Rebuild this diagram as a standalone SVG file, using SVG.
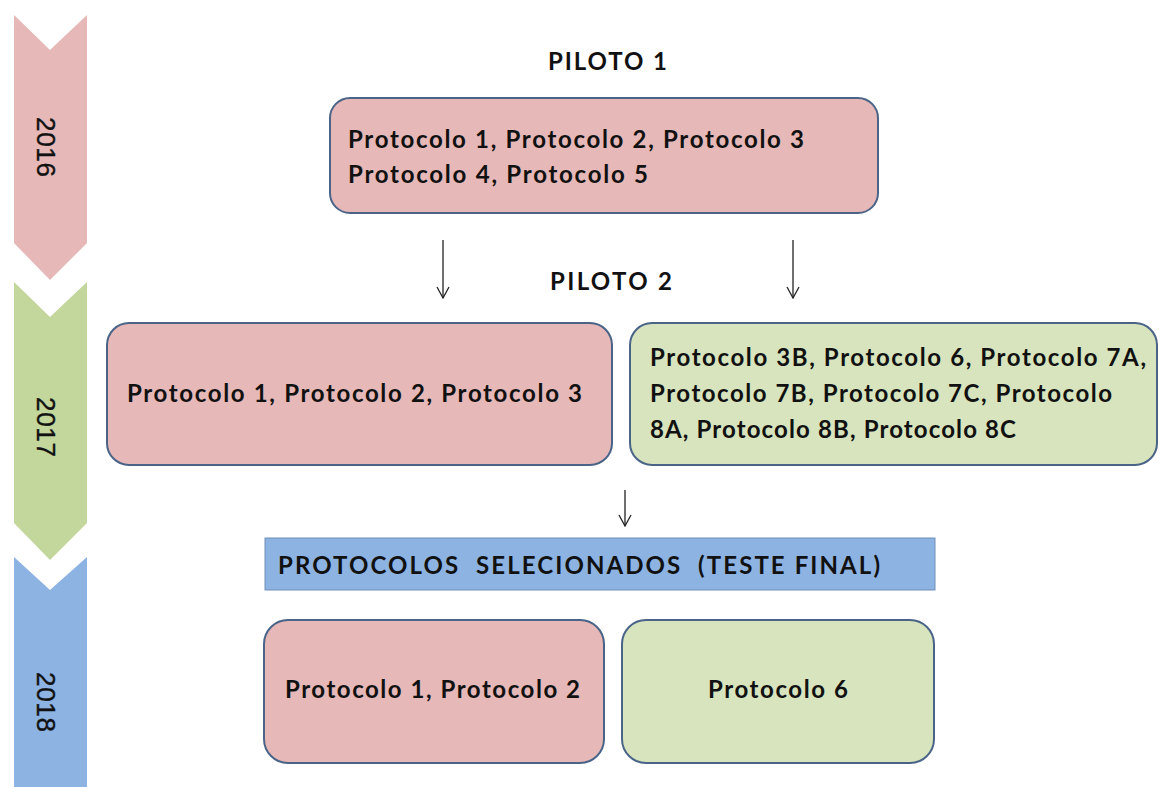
<svg xmlns="http://www.w3.org/2000/svg" width="1161" height="787" viewBox="0 0 1161 787">
<defs>
<style>
.box{stroke:#4a6488;stroke-width:2}
.pink{fill:#e6b8b7}
.green{fill:#d7e4bd}
.t{font-family:Lato,"Open Sans","Liberation Sans",sans-serif;font-weight:bold;font-size:24px;fill:#111}
.yr{font-family:"Liberation Sans",Arial,sans-serif;font-size:26px;fill:#111;stroke:#111;stroke-width:0.4}
.conn{stroke:#222;stroke-width:1.3;fill:none}
</style>
<marker id="ah" viewBox="0 0 14 14" refX="13" refY="7" markerWidth="14" markerHeight="14" markerUnits="userSpaceOnUse" orient="auto">
<path d="M2,1 L13,7 L2,13" fill="none" stroke="#222" stroke-width="1.3"/>
</marker>
</defs>
<rect width="1161" height="787" fill="#fff"/>
<g id="timeline">
<g id="y2016">
<polygon points="14,15 50,50 87,15 87,243 50,280 14,243" fill="#e6b8b7"/>
<text class="yr" transform="translate(37,147) rotate(90)" text-anchor="middle" textLength="60">2016</text>
</g>
<g id="y2017">
<polygon points="14,282 50,317 87,282 87,523 50,560 14,523" fill="#c3d69b"/>
<text class="yr" transform="translate(37,427) rotate(90)" text-anchor="middle" textLength="60">2017</text>
</g>
<g id="y2018">
<polygon points="14,557 50,590 87,557 87,787 14,787" fill="#8db3e2"/>
<text class="yr" transform="translate(37,702) rotate(90)" text-anchor="middle" textLength="60">2018</text>
</g>
</g>
<g id="piloto1">
<text class="t" x="548" y="70" textLength="119">PILOTO 1</text>
</g>
<g id="piloto2">
<text class="t" x="550" y="290" textLength="122">PILOTO 2</text>
</g>
<g id="p1box">
<rect class="box pink" x="330" y="98" width="548" height="115" rx="20"/>
<text class="t" x="348" y="148" textLength="456">Protocolo 1, Protocolo 2, Protocolo 3</text>
<text class="t" x="348" y="183" textLength="300">Protocolo 4, Protocolo 5</text>
</g>
<g id="p2left">
<rect class="box pink" x="107" y="323" width="505" height="142" rx="22"/>
<text class="t" x="127" y="402" textLength="455">Protocolo 1, Protocolo 2, Protocolo 3</text>
</g>
<g id="p2right">
<rect class="box green" x="630" y="323" width="527" height="142" rx="22"/>
<text class="t" x="650" y="366" textLength="496">Protocolo 3B, Protocolo 6, Protocolo 7A,</text>
<text class="t" x="650" y="402" textLength="462">Protocolo 7B, Protocolo 7C, Protocolo</text>
<text class="t" x="650" y="438" textLength="366">8A, Protocolo 8B, Protocolo 8C</text>
</g>
<g id="selecionados">
<rect x="265" y="538" width="670" height="52" fill="#8db3e2" stroke="#6f8fb8" stroke-width="1"/>
<text class="t" x="278" y="574" textLength="602" xml:space="preserve">PROTOCOLOS  SELECIONADOS  (TESTE FINAL)</text>
</g>
<g id="final-left">
<rect class="box pink" x="264" y="620" width="340" height="143" rx="24"/>
<text class="t" x="285" y="698" textLength="295">Protocolo 1, Protocolo 2</text>
</g>
<g id="final-right">
<rect class="box green" x="622" y="620" width="312" height="143" rx="24"/>
<text class="t" x="708" y="698" textLength="140">Protocolo 6</text>
</g>
<g id="connectors">
<line class="conn" x1="443" y1="240" x2="443" y2="298" marker-end="url(#ah)"/>
<line class="conn" x1="793" y1="240" x2="793" y2="298" marker-end="url(#ah)"/>
<line class="conn" x1="625" y1="490" x2="625" y2="526" marker-end="url(#ah)"/>
</g>
</svg>
